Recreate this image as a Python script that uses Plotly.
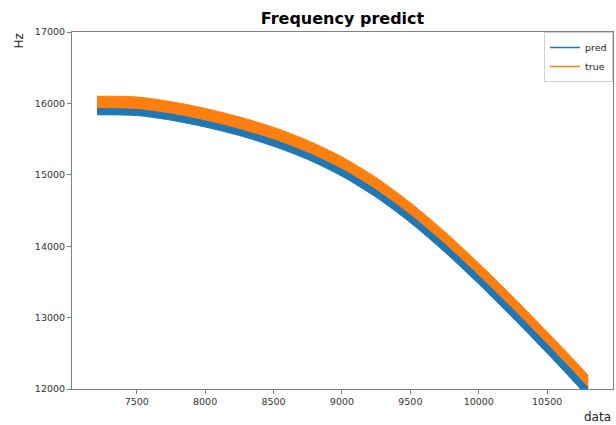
import plotly.graph_objects as go

# Values (envelopes of the dense, noisy series)
x_vals = [7210, 7500, 7750, 8000, 8250, 8500, 8750, 9000, 9250, 9500, 9750, 10000, 10250, 10500, 10650, 10800]
true_upper = [16100, 16090, 16025, 15930, 15810, 15665, 15480, 15250, 14960, 14610, 14205, 13760, 13290, 12800, 12500, 12190]
true_lower = [15940, 15930, 15865, 15770, 15650, 15505, 15320, 15090, 14800, 14450, 14045, 13600, 13130, 12640, 12340, 12030]
pred_upper = [16000, 15990, 15925, 15830, 15710, 15560, 15375, 15140, 14845, 14490, 14080, 13630, 13155, 12660, 12355, 12040]
pred_lower = [15840, 15830, 15765, 15670, 15550, 15400, 15215, 14980, 14685, 14330, 13920, 13470, 12995, 12500, 12195, 11880]

x_ticks = [7500, 8000, 8500, 9000, 9500, 10000, 10500]
y_ticks = [12000, 13000, 14000, 15000, 16000, 17000]

BLUE = "#1f77b4"
ORANGE = "#ff7f0e"
FONT = "DejaVu Sans"

fig = go.Figure()


def band(upper, lower, color):
    top = go.Scatter(x=x_vals, y=upper, mode="lines",
                     line=dict(color=color, width=1, shape="spline", smoothing=0.8),
                     showlegend=False, hoverinfo="skip")
    bottom = go.Scatter(x=x_vals, y=lower, mode="lines", fill="tonexty",
                        fillcolor=color,
                        line=dict(color=color, width=1, shape="spline", smoothing=0.8),
                        showlegend=False, hoverinfo="skip")
    return [top, bottom]


for tr in band(pred_upper, pred_lower, BLUE):
    fig.add_trace(tr)
for tr in band(true_upper, true_lower, ORANGE):
    fig.add_trace(tr)

# legend entries
fig.add_trace(go.Scatter(x=[None], y=[None], mode="lines", name="pred",
                         line=dict(color=BLUE, width=1.5)))
fig.add_trace(go.Scatter(x=[None], y=[None], mode="lines", name="true",
                         line=dict(color=ORANGE, width=1.5)))

axis_common = dict(
    showgrid=False, zeroline=False, showline=True, mirror=True,
    linecolor="#808080", linewidth=1,
    ticks="outside", ticklen=4, tickcolor="#808080", tickwidth=1,
    tickformat="d",
    tickfont=dict(family=FONT, size=9.5, color="#333333"),
)

fig.update_layout(
    width=616, height=425,
    margin=dict(l=72, r=3, t=32, b=36),
    paper_bgcolor="white", plot_bgcolor="white",
    font=dict(family=FONT, color="#222222"),
    title=dict(text="Frequency predict", x=0.556, xanchor="center",
               y=1 - 18 / 425, yanchor="middle", yref="container",
               font=dict(family=FONT, size=16, color="#000000", weight="bold")),
    xaxis=dict(range=[7027, 10981], tickvals=x_ticks, **axis_common),
    yaxis=dict(range=[12000, 17000], tickvals=y_ticks, **axis_common),
    legend=dict(x=1.0, y=1.0, xanchor="right", yanchor="top",
                traceorder="normal",
                bgcolor="white", bordercolor="#d0d0d0", borderwidth=1,
                font=dict(family=FONT, size=9.5, color="#222222"),
                itemwidth=30, tracegroupgap=0),
    annotations=[
        dict(text="Hz", xref="paper", yref="paper", x=-(72 - 18) / 541, y=1.0,
             xanchor="center", yanchor="top", textangle=-90, showarrow=False,
             font=dict(family=FONT, size=12, color="#222222")),
        dict(text="data", xref="paper", yref="paper", x=1.0, y=-(417 - 389) / 358,
             xanchor="right", yanchor="middle", showarrow=False,
             font=dict(family=FONT, size=12, color="#222222")),
    ],
)

fig.write_html("out.html", config={"displayModeBar": False},
               post_script="document.body.style.margin='0';document.body.style.overflow='hidden';")
